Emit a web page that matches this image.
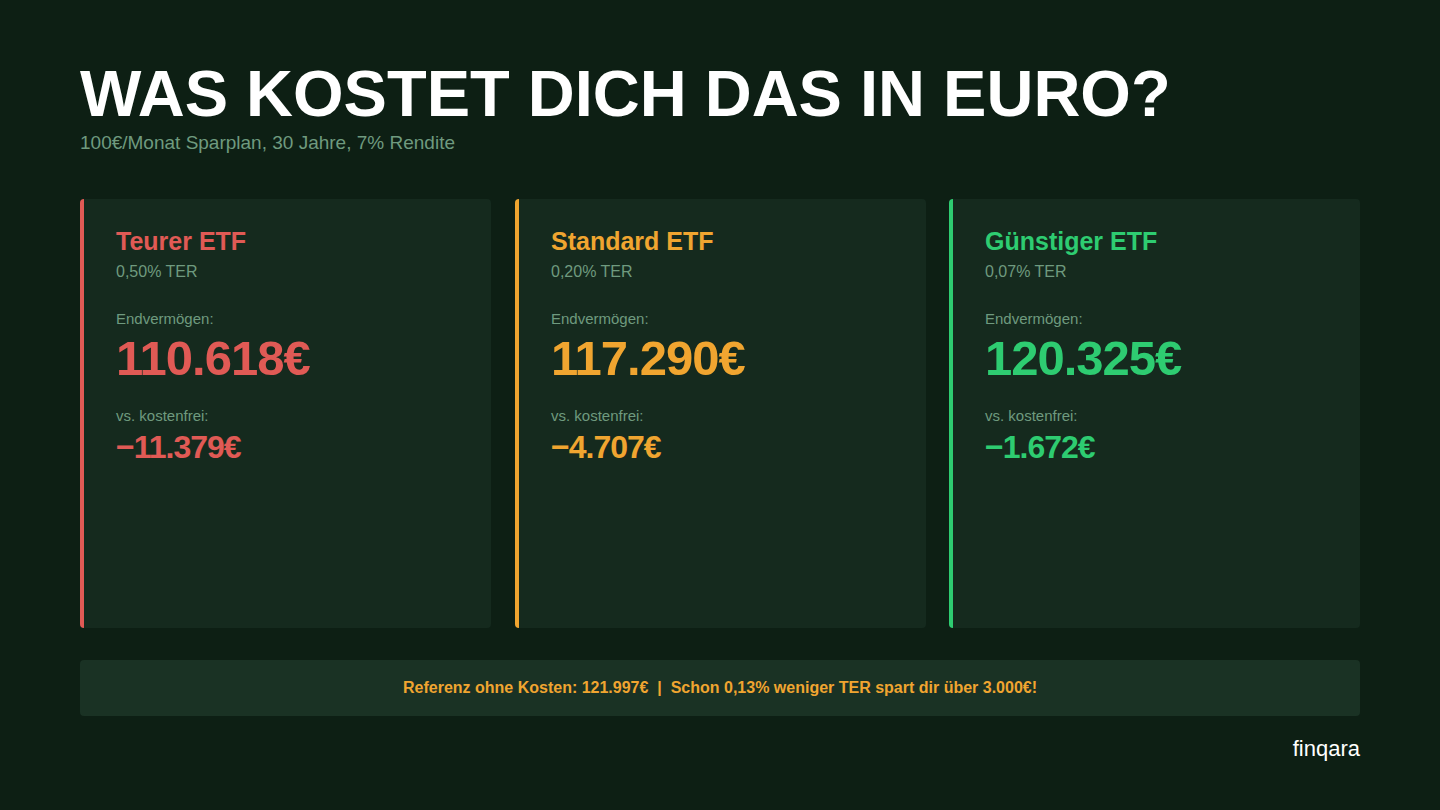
<!DOCTYPE html>
<html><head><meta charset="utf-8">
<script src="https://cdn.jsdelivr.net/npm/chart.js@4"></script>
<style>
body{margin:0;width:1440px;height:810px;background:#0d1f14;font-family:"Liberation Sans",Arial,sans-serif;position:relative;overflow:hidden}
.abs{position:absolute;white-space:nowrap}
.card{position:absolute;top:199px;height:429px;width:411px;background:#152a1e;border-radius:4px;box-sizing:border-box}
.card .bar{position:absolute;left:0;top:0;bottom:0;width:4px;border-radius:4px 0 0 4px}
.card div.t{position:absolute;left:36px;white-space:nowrap}
</style></head><body>
<div class="abs" style="left:80px;top:56px;font-size:65px;font-weight:bold;color:#fff">WAS KOSTET DICH DAS IN EURO?</div>
<div class="abs" style="left:80px;top:132px;font-size:19px;color:#6f9a7f">100€/Monat Sparplan, 30 Jahre, 7% Rendite</div>
<div id="cards"></div>
<div class="abs" style="left:80px;top:660px;width:1280px;height:56px;background:#1a3224;border-radius:4px;text-align:center;line-height:56px;font-size:16px;font-weight:bold;color:#f0a530">Referenz ohne Kosten: 121.997€ &nbsp;|&nbsp; Schon 0,13% weniger TER spart dir über 3.000€!</div>
<div class="abs" style="right:80px;top:736px;font-size:22px;color:#fff">finqara</div>
<script>
const names = ['Teurer ETF', 'Standard ETF', 'Günstiger ETF'];
const ters = ['0,50% TER', '0,20% TER', '0,07% TER'];
const endValues = ['110.618€', '117.290€', '120.325€'];
const diffs = ['−11.379€', '−4.707€', '−1.672€'];
const colors = ['#e05a55', '#f0a530', '#2ecc71'];
const lefts = [80, 515, 949];

const wrap = document.getElementById('cards');
names.forEach((n, i) => {
    const c = document.createElement('div');
    c.className = 'card';
    c.style.left = lefts[i] + 'px';
    c.innerHTML =
        `<div class="bar" style="background:${colors[i]}"></div>` +
        `<div class="t" style="top:28px;font-size:25px;font-weight:bold;color:${colors[i]}">${n}</div>` +
        `<div class="t" style="top:64px;font-size:16px;color:#6f9a7f">${ters[i]}</div>` +
        `<div class="t" style="top:111px;font-size:15px;color:#6f9a7f">Endvermögen:</div>` +
        `<div class="t" style="top:131px;font-size:49px;font-weight:bold;letter-spacing:-1px;color:${colors[i]}">${endValues[i]}</div>` +
        `<div class="t" style="top:208px;font-size:15px;color:#6f9a7f">vs. kostenfrei:</div>` +
        `<div class="t" style="top:230px;font-size:32px;font-weight:bold;letter-spacing:-1px;color:${colors[i]}">${diffs[i]}</div>`;
    wrap.appendChild(c);
});
</script>
</body></html>
